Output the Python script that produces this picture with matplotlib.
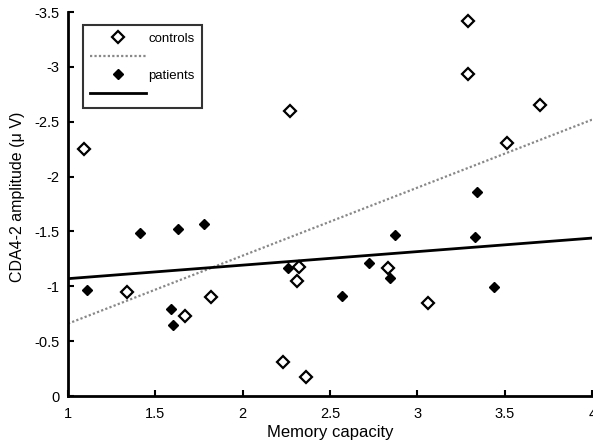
import numpy as np
import matplotlib
matplotlib.use('Agg')
import matplotlib.pyplot as plt
from matplotlib.lines import Line2D

# controls (open diamonds)
ctrl_x = [1.09, 2.27, 3.29, 3.29, 3.70, 3.51, 1.34, 1.67, 1.82, 2.23, 2.32, 2.31, 2.36, 2.83, 3.06]
ctrl_y = [-2.25, -2.60, -3.42, -2.94, -2.65, -2.31, -0.95, -0.73, -0.90, -0.31, -1.18, -1.05, -0.17, -1.17, -0.85]

# patients (filled diamonds)
pat_x = [1.11, 1.41, 1.63, 1.78, 1.59, 1.60, 2.26, 2.57, 2.72, 2.84, 2.87, 3.33, 3.34, 3.44]
pat_y = [-0.97, -1.49, -1.52, -1.57, -0.79, -0.65, -1.17, -0.91, -1.21, -1.08, -1.47, -1.45, -1.86, -0.99]

# regression lines: value at x=1 and at x=4
ctrl_fit = [-0.66, -2.52]
pat_fit = [-1.07, -1.44]
fit_x = [1, 4]

xticks = [1, 1.5, 2, 2.5, 3, 3.5, 4]
xtick_labels = ['1', '1.5', '2', '2.5', '3', '3.5', '4']
yticks = [0, -0.5, -1, -1.5, -2, -2.5, -3, -3.5]
ytick_labels = ['0', '-0.5', '-1', '-1.5', '-2', '-2.5', '-3', '-3.5']

plt.rcParams['font.family'] = ['Liberation Sans', 'DejaVu Sans']

fig = plt.figure(figsize=(5.93, 4.48), dpi=100)
ax = fig.add_axes([0.1147, 0.116, 0.884, 0.857])

ax.plot(fit_x, ctrl_fit, linestyle=(0, (1, 1)), color='#888888', lw=1.6, zorder=1)
ax.plot(fit_x, pat_fit, linestyle='-', color='black', lw=2, zorder=1)
ax.plot(ctrl_x, ctrl_y, 'D', ms=6.2, mfc='white', mec='black', mew=1.6, ls='none', zorder=3)
ax.plot(pat_x, pat_y, 'D', ms=5.5, mfc='black', mec='black', ls='none', zorder=3)

ax.set_xlim(1, 4)
ax.set_ylim(0, -3.5)
ax.set_xticks(xticks)
ax.set_xticklabels(xtick_labels)
ax.set_yticks(yticks)
ax.set_yticklabels(ytick_labels)
ax.tick_params(direction='in', length=4, width=1.5, labelsize=10.5)
ax.tick_params(axis='x', pad=8)
ax.tick_params(axis='y', pad=6)

for s in ['top', 'right']:
    ax.spines[s].set_visible(False)
for s in ['left', 'bottom']:
    ax.spines[s].set_linewidth(2)

ax.set_xlabel('Memory capacity', fontsize=12, labelpad=3)
ax.set_ylabel('CDA4-2 amplitude (\u03bc V)', fontsize=11.5)
ax.yaxis.set_label_coords(-0.082, 0.52)

handles = [
    Line2D([], [], marker='D', ms=6.2, mfc='white', mec='black', mew=1.6, ls='none'),
    Line2D([], [], linestyle=(0, (1, 1)), color='#888888', lw=1.6),
    Line2D([], [], marker='D', ms=5.5, mfc='black', mec='black', ls='none'),
    Line2D([], [], linestyle='-', color='black', lw=2),
]
labels = ['controls', ' ', 'patients', ' ']
leg = ax.legend(handles, labels, loc='upper left', bbox_to_anchor=(0.0286, 0.966),
                borderaxespad=0, fontsize=9.5, frameon=True, fancybox=False,
                edgecolor='black', handlelength=4.2, handletextpad=0.2,
                labelspacing=0.48, borderpad=0.55)
leg.get_frame().set_linewidth(1.5)

fig.savefig('out.png', dpi=100)
